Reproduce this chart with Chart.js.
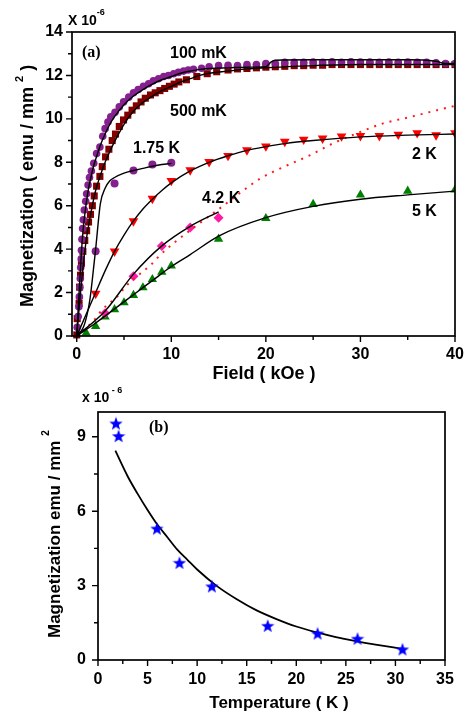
<!DOCTYPE html>
<html>
<head>
<meta charset="utf-8">
<script src="https://cdn.jsdelivr.net/npm/chart.js@4"></script>
<style>
  body { margin: 0; background: #fff; }
  .wrap { position: absolute; left: 0; width: 466px; }
  #wrapA { top: 0; height: 390px; }
  #wrapB { top: 375px; height: 338px; }
</style>
</head>
<body>
<div class="wrap" id="wrapA"><canvas id="chartA" width="466" height="390"></canvas></div>
<div class="wrap" id="wrapB"><canvas id="chartB" width="466" height="338"></canvas></div>
<script>
const SANS = "'Liberation Sans', Arial, sans-serif";
const SERIF = "'Liberation Serif', 'Times New Roman', serif";
const B = (px) => "bold " + px + "px " + SANS;

// ---- (a) magnetization (x1e-6 emu/mm^2) vs field (kOe)
const h100mK = [0.05, 0.15, 0.22, 0.28, 0.33, 0.38, 0.42, 0.48, 0.5, 0.55, 0.62, 0.7, 0.8, 0.95, 1.05, 1.2, 1.35, 1.55, 1.8, 2.1, 2.45, 2.75, 3.0, 3.3, 3.6, 4.05, 4.5, 4.95, 5.5, 6.0, 6.5, 7.05, 7.6, 8.1, 8.65, 9.2, 9.7, 10.25, 10.75, 11.3, 11.8, 12.35, 13.2, 14, 15, 16, 17, 18, 19, 20, 21, 22, 23, 24, 25, 26, 27, 28, 29, 30, 31, 32, 33, 34, 35, 36, 37, 38, 39, 40];
const m100mK = [0.4, 0.9, 1.35, 1.8, 2.25, 2.65, 3.15, 3.55, 3.95, 4.45, 4.95, 5.35, 5.8, 6.2, 6.55, 6.95, 7.3, 7.6, 7.95, 8.4, 8.7, 9.2, 9.55, 9.85, 10.1, 10.3, 10.55, 10.78, 11.0, 11.2, 11.35, 11.5, 11.62, 11.75, 11.85, 11.95, 12.0, 12.08, 12.14, 12.2, 12.25, 12.28, 12.33, 12.4, 12.45, 12.47, 12.45, 12.5, 12.5, 12.55, 12.55, 12.6, 12.6, 12.6, 12.62, 12.6, 12.63, 12.6, 12.63, 12.62, 12.62, 12.6, 12.62, 12.6, 12.62, 12.6, 12.6, 12.58, 12.55, 12.55];

const h500mK = [0.0, 0.05, 0.25, 0.3, 0.4, 0.5, 0.65, 0.85, 1.05, 1.25, 1.45, 1.65, 1.85, 2.1, 2.45, 2.7, 3.05, 3.4, 3.75, 4.1, 4.5, 4.95, 5.4, 5.85, 6.3, 6.8, 7.25, 7.8, 8.3, 8.8, 9.3, 9.8, 10.3, 10.8, 11.6, 12.7, 13.8, 14.8, 16, 17, 18, 19, 20, 21, 22, 23, 24, 25, 26, 27, 28, 29, 30, 31, 32, 33, 34, 35, 36, 37, 38, 39, 40];
const m500mK = [0.05, 0.8, 1.5, 2.25, 2.8, 3.35, 3.9, 4.4, 4.85, 5.25, 5.6, 6.0, 6.45, 6.9, 7.35, 7.8, 8.25, 8.6, 9.0, 9.3, 9.65, 9.95, 10.17, 10.4, 10.6, 10.78, 10.95, 11.1, 11.2, 11.3, 11.4, 11.5, 11.6, 11.7, 11.8, 11.95, 12.08, 12.17, 12.25, 12.3, 12.32, 12.35, 12.38, 12.4, 12.42, 12.45, 12.45, 12.47, 12.47, 12.5, 12.5, 12.5, 12.5, 12.5, 12.5, 12.5, 12.5, 12.5, 12.5, 12.5, 12.5, 12.5, 12.5];

const h175K = [2, 4, 6, 8, 10];
const m175K = [3.9, 7.02, 7.62, 7.9, 7.98];

const h2K = [2, 4, 6, 8, 10, 12, 14, 16, 18, 20, 22, 24, 26, 28, 30, 32, 34, 36, 38, 40];
const m2K = [1.95, 3.9, 5.29, 6.33, 7.15, 7.64, 8.02, 8.3, 8.56, 8.74, 8.95, 9.05, 9.1, 9.2, 9.22, 9.22, 9.28, 9.35, 9.25, 9.35];

const h42K = [3, 6, 9, 12, 15];
const m42K = [1.05, 2.75, 4.15, 5.0, 5.45];

const h5K = [1, 2, 3, 4, 5, 6, 7, 8, 9, 10, 15, 20, 25, 30, 35, 40];
const m5K = [0.14, 0.45, 0.88, 1.22, 1.54, 1.88, 2.23, 2.61, 2.95, 3.23, 4.47, 5.42, 6.07, 6.5, 6.68, 6.73];

// fitted curves (black) and the red dotted curve
const fit100H = [0, 0.1, 0.2, 0.3, 0.45, 0.6, 0.8, 1.0, 1.25, 1.5, 1.8, 2.2, 2.6, 3.0, 3.5, 4, 5, 6, 7, 8, 9, 10, 11, 12, 13, 14, 16, 18, 20, 20.5, 21, 25, 30, 35, 37, 38, 39, 40];
const fit100M = [0, 0.8, 1.6, 2.4, 3.5, 4.5, 5.4, 6.1, 6.8, 7.3, 7.85, 8.4, 8.9, 9.3, 9.75, 10.1, 10.65, 11.05, 11.35, 11.6, 11.8, 11.95, 12.1, 12.2, 12.28, 12.32, 12.35, 12.38, 12.4, 12.6, 12.7, 12.72, 12.72, 12.72, 12.7, 12.65, 12.55, 12.55];
const fit500H = [0, 0.2, 0.4, 0.6, 0.8, 1.0, 1.3, 1.6, 2.0, 2.5, 3, 3.5, 4, 5, 6, 7, 8, 9, 10, 11, 12, 13, 14, 16, 18, 20, 25, 30, 35, 40];
const fit500M = [0, 1.0, 2.0, 2.9, 3.7, 4.4, 5.2, 5.9, 6.7, 7.4, 8.0, 8.5, 8.95, 9.75, 10.35, 10.75, 11.05, 11.3, 11.5, 11.7, 11.85, 12.0, 12.1, 12.2, 12.3, 12.35, 12.45, 12.5, 12.5, 12.5];
const fit175H = [0, 0.7, 1.1, 1.4, 1.7, 2.0, 2.5, 3.0, 3.5, 4, 5, 6, 7, 8, 9, 10];
const fit175M = [0, 0.4, 1.0, 1.7, 2.8, 4.0, 6.1, 6.8, 7.15, 7.3, 7.5, 7.62, 7.72, 7.82, 7.9, 7.95];
const fit2KH = [0, 1, 2, 3, 4, 5, 6, 7, 8, 9, 10, 12, 14, 16, 18, 20, 22, 25, 30, 35, 40];
const fit2KM = [0, 1.0, 2.0, 3.0, 3.9, 4.65, 5.3, 5.85, 6.3, 6.7, 7.05, 7.6, 8.0, 8.3, 8.55, 8.72, 8.86, 9.0, 9.17, 9.25, 9.3];
const fit42H = [0, 3, 6, 9, 12, 15];
const fit42M = [0, 1.15, 2.85, 4.15, 5.05, 5.72];
const fit5KH = [0, 2, 4, 6, 8, 10, 12, 15, 20, 25, 30, 35, 40];
const fit5KM = [0, 0.6, 1.25, 1.9, 2.55, 3.2, 3.75, 4.6, 5.45, 5.97, 6.3, 6.5, 6.67];
const dotH = [0, 1.8, 2.8, 4.25, 5.3, 6.7, 7.8, 8.8, 10.2, 12.4, 15.5, 17.6, 19.4, 21.9, 24.7, 27.1, 29.6, 32.4, 35.3, 38.1, 40];
const dotM = [0, 0.72, 1.26, 1.8, 2.34, 2.87, 3.26, 3.72, 4.26, 5.0, 6.0, 6.7, 7.25, 7.79, 8.33, 8.87, 9.33, 9.79, 10.09, 10.4, 10.6];

const xTicksA = [0, 10, 20, 30, 40];
const xMinorA = [5, 15, 25, 35];
const yTicksA = [0, 2, 4, 6, 8, 10, 12, 14];
const yMinorA = [1, 3, 5, 7, 9, 11, 13];

// ---- (b) magnetization vs temperature
const tempK = [1.81, 2.08, 5.94, 8.22, 11.48, 17.12, 22.15, 26.18, 30.71];
const magT = [9.54, 9.03, 5.30, 3.92, 2.97, 1.38, 1.07, 0.86, 0.43];
const fitT = [1.75, 3, 4, 5, 6, 7, 8, 9, 10, 12, 14, 16, 18, 20, 22, 24, 26, 28, 30.7];
const fitTM = [8.44, 7.4, 6.7, 6.05, 5.45, 4.95, 4.45, 4.05, 3.65, 2.98, 2.45, 2.0, 1.65, 1.35, 1.12, 0.92, 0.76, 0.62, 0.45];

const xTicksB = [0, 5, 10, 15, 20, 25, 30, 35];
const xMinorB = [2.5, 7.5, 12.5, 17.5, 22.5, 27.5, 32.5];
const yTicksB = [0, 3, 6, 9];
const yMinorB = [1.5, 4.5, 7.5];

const pts = (xs, ys) => xs.map((x, i) => ({ x: x, y: ys[i] }));

function fitLine(xs, ys) {
  return {
    data: pts(xs, ys), showLine: true, pointRadius: 0, borderColor: '#000',
    borderWidth: 1.4, cubicInterpolationMode: 'monotone', order: 0
  };
}
function marks(xs, ys, style, color, r, rot) {
  return {
    data: pts(xs, ys), showLine: false, pointStyle: style, pointRadius: r,
    pointRotation: rot || 0, backgroundColor: color, borderColor: color,
    pointBorderWidth: 0, order: 1, clip: { left: 8, top: 8, right: 0, bottom: 8 }
  };
}

function drawRich(ctx, t) {
  ctx.save();
  ctx.translate(t.x, t.y);
  if (t.rotate) ctx.rotate(-Math.PI / 2);
  ctx.fillStyle = '#000';
  ctx.textBaseline = 'alphabetic';
  ctx.textAlign = 'left';
  let w = 0;
  t.parts.forEach(p => { ctx.font = p.font; w += ctx.measureText(p.text).width; });
  let cx = t.align === 'center' ? -w / 2 : 0;
  t.parts.forEach(p => {
    ctx.font = p.font;
    ctx.fillText(p.text, cx, p.dy || 0);
    cx += ctx.measureText(p.text).width;
  });
  ctx.restore();
}

function decor(cfg) {
  return {
    id: 'decor',
    afterDraw(chart) {
      const ctx = chart.ctx, a = chart.chartArea, x = chart.scales.x, y = chart.scales.y;
      ctx.save();
      ctx.strokeStyle = '#000';
      ctx.lineWidth = 1.7;
      ctx.strokeRect(a.left, a.top, a.right - a.left, a.bottom - a.top);
      ctx.lineWidth = 1.4;
      ctx.beginPath();
      const tx = (vals, len) => vals.forEach(v => {
        const p = x.getPixelForValue(v);
        ctx.moveTo(p, a.bottom); ctx.lineTo(p, a.bottom + len);
      });
      const ty = (vals, len) => vals.forEach(v => {
        const p = y.getPixelForValue(v);
        ctx.moveTo(a.left, p); ctx.lineTo(a.left - len, p);
      });
      tx(cfg.xMajor, 6); tx(cfg.xMinor, 4);
      ty(cfg.yMajor, 6); ty(cfg.yMinor, 4);
      ctx.stroke();
      cfg.texts.forEach(t => drawRich(ctx, t));
      ctx.restore();
    }
  };
}

// fixed axis box sizes; no extra room for the end labels
function axis(min, max, ticks, size, pad) {
  return {
    type: 'linear', min: min, max: max,
    afterBuildTicks: s => { s.ticks = ticks.map(v => ({ value: v })); },
    afterFit: s => {
      if (s.isHorizontal()) s.height = size; else s.width = size;
      s.paddingLeft = 0; s.paddingRight = 0; s.paddingTop = 0; s.paddingBottom = 0;
    },
    grid: { display: false, drawTicks: false, tickLength: 0 },
    border: { display: false },
    ticks: { color: '#000', font: { family: SANS, size: 16, weight: 'bold' }, padding: pad, autoSkip: false, maxRotation: 0 }
  };
}

// star marker for panel (b)
const star = document.createElement('canvas');
star.width = 14; star.height = 14;
(function () {
  const c = star.getContext('2d');
  c.fillStyle = '#0000ff';
  c.beginPath();
  for (let i = 0; i < 10; i++) {
    const r = i % 2 ? 2.9 : 7;
    const ang = -Math.PI / 2 + i * Math.PI / 5;
    c.lineTo(7 + r * Math.cos(ang), 7.6 + r * Math.sin(ang));
  }
  c.closePath();
  c.fill();
})();

new Chart(document.getElementById('chartA'), {
  type: 'scatter',
  data: {
    datasets: [
      fitLine(fit100H, fit100M),
      fitLine(fit500H, fit500M),
      fitLine(fit175H, fit175M),
      fitLine(fit2KH, fit2KM),
      fitLine(fit42H, fit42M),
      fitLine(fit5KH, fit5KM),
      {
        data: pts(dotH, dotM), showLine: true, pointRadius: 0, borderColor: '#ff1a1a',
        borderWidth: 2, borderDash: [2, 6], cubicInterpolationMode: 'monotone', order: 0
      },
      marks(h100mK, m100mK, 'circle', '#85208f', 3.8),
      marks(h500mK, m500mK, 'rect', '#800000', 5),
      marks(h175K, m175K, 'circle', '#85208f', 4),
      marks(h2K, m2K, 'triangle', '#ff0000', 5.6, 180),
      marks(h42K, m42K, 'rectRot', '#ff1aa3', 5),
      marks(h5K, m5K, 'triangle', '#008000', 5.4)
    ]
  },
  options: {
    responsive: false,
    animation: false,
    events: [],
    layout: { padding: { left: 0, top: 32, right: 11, bottom: 0 } },
    plugins: { legend: { display: false }, tooltip: { enabled: false } },
    scales: {
      x: axis(-0.5, 40, xTicksA, 54, 9),
      y: axis(0, 14, yTicksA, 72, 9)
    }
  },
  plugins: [decor({
    xMajor: xTicksA, xMinor: xMinorA, yMajor: yTicksA, yMinor: yMinorA,
    texts: [
      { x: 33, y: 307, rotate: true, parts: [
        { text: 'Magnetization ( emu / mm ', font: B(18) },
        { text: '2', font: B(11), dy: -10 },
        { text: ' )', font: B(18) }] },
      { x: 264, y: 379, align: 'center', parts: [{ text: 'Field ( kOe )', font: B(18) }] },
      { x: 68, y: 25, parts: [{ text: 'X 10', font: B(14) }, { text: '-6', font: B(9), dy: -10 }] },
      { x: 82, y: 57, parts: [{ text: '(a)', font: 'bold 16px ' + SERIF }] },
      { x: 170, y: 58, parts: [{ text: '100 mK', font: B(16) }] },
      { x: 170, y: 116, parts: [{ text: '500 mK', font: B(16) }] },
      { x: 133, y: 153, parts: [{ text: '1.75 K', font: B(16) }] },
      { x: 412, y: 159, parts: [{ text: '2 K', font: B(16) }] },
      { x: 202, y: 203, parts: [{ text: '4.2 K', font: B(16) }] },
      { x: 412, y: 216, parts: [{ text: '5 K', font: B(16) }] }
    ]
  })]
});

new Chart(document.getElementById('chartB'), {
  type: 'scatter',
  data: {
    datasets: [
      {
        data: pts(tempK, magT), showLine: false, pointStyle: star, pointRadius: 7,
        order: 0, clip: false
      },
      {
        data: pts(fitT, fitTM), showLine: true, pointRadius: 0, borderColor: '#000',
        borderWidth: 1.8, cubicInterpolationMode: 'monotone', order: 1
      }
    ]
  },
  options: {
    responsive: false,
    animation: false,
    events: [],
    layout: { padding: { left: 0, top: 37, right: 21, bottom: 0 } },
    plugins: { legend: { display: false }, tooltip: { enabled: false } },
    scales: {
      x: axis(0, 35, xTicksB, 53, 10),
      y: axis(0, 10, yTicksB, 98, 12)
    }
  },
  plugins: [decor({
    xMajor: xTicksB, xMinor: xMinorB, yMajor: yTicksB, yMinor: yMinorB,
    texts: [
      { x: 60, y: 263, rotate: true, parts: [
        { text: 'Magnetization emu / mm ', font: B(17) },
        { text: '2', font: B(10), dy: -11 }] },
      { x: 279, y: 333, align: 'center', parts: [{ text: 'Temperature ( K )', font: B(17) }] },
      { x: 82, y: 27, parts: [{ text: 'x 10', font: B(14) }, { text: ' - 6', font: B(9), dy: -9 }] },
      { x: 149, y: 57, parts: [{ text: '(b)', font: 'bold 16px ' + SERIF }] }
    ]
  })]
});
</script>
</body>
</html>
